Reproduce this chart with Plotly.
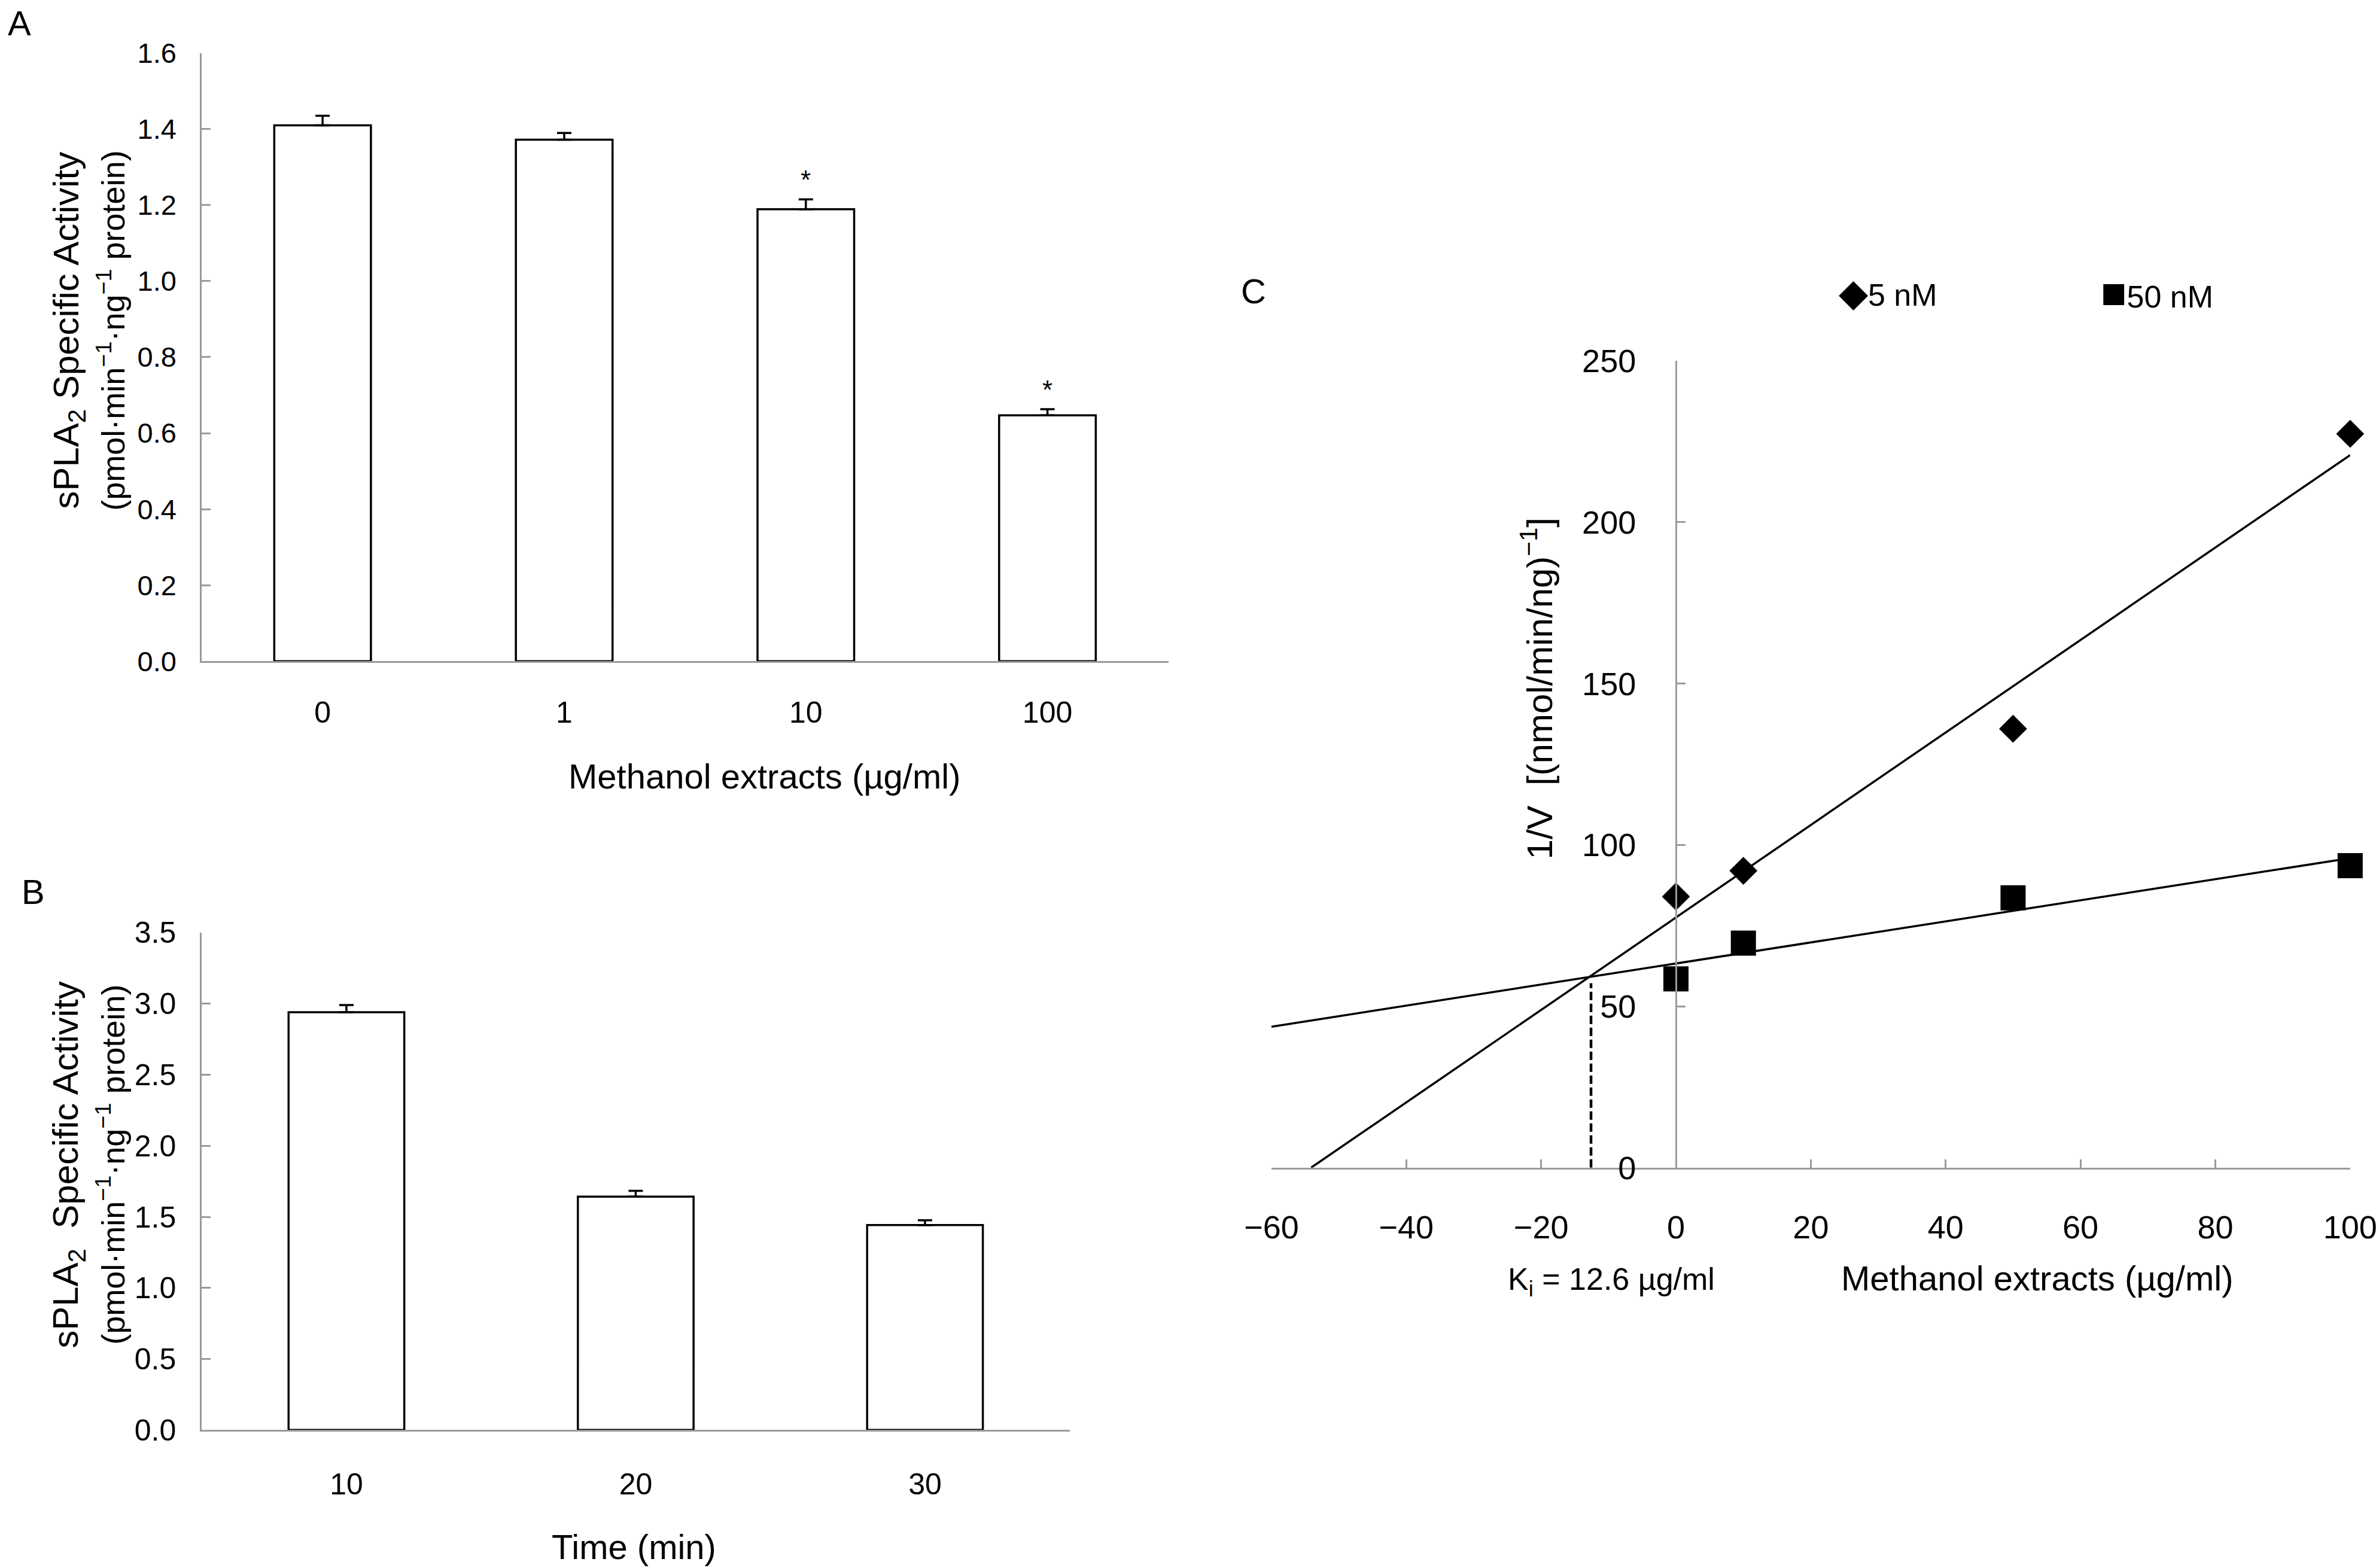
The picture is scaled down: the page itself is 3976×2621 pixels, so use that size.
import numpy as np
import plotly.graph_objects as go

# ---------------- data ----------------
# Panel A: sPLA2 activity vs methanol extract concentration
conc_labels_A = ["0", "1", "10", "100"]
activity_A = [1.41, 1.372, 1.189, 0.647]
err_A = [0.025, 0.018, 0.026, 0.016]
sig_A = ["", "", "*", "*"]

# Panel B: sPLA2 activity vs time
time_labels_B = ["10", "20", "30"]
activity_B = [2.94, 1.642, 1.442]
err_B = [0.05, 0.041, 0.034]

# Panel C: Dixon plot
conc_C = [0, 10, 50, 100]
inv_v_5nM = [84.0, 92.0, 136.0, 227.4]
inv_v_50nM = [58.5, 69.6, 83.6, 93.6]
ki_value = 12.6

FONT = "Liberation Sans, Arial, sans-serif"
AXIS_GREY = "#9a9a9a"

fig = go.Figure()

# ---------------- Panel A ----------------
fig.add_trace(go.Bar(
    x=conc_labels_A, y=activity_A,
    marker=dict(color="white", line=dict(color="black", width=3.5)),
    error_y=dict(type="data", array=err_A, arrayminus=[0] * len(err_A), symmetric=False,
                 color="black", thickness=3.5, width=12),
    xaxis="x", yaxis="y", showlegend=False,
))

# ---------------- Panel B ----------------
fig.add_trace(go.Bar(
    x=time_labels_B, y=activity_B,
    marker=dict(color="white", line=dict(color="black", width=3.5)),
    error_y=dict(type="data", array=err_B, arrayminus=[0] * len(err_B), symmetric=False,
                 color="black", thickness=3.5, width=12),
    xaxis="x2", yaxis="y2", showlegend=False,
))

# ---------------- Panel C ----------------
x_arr = np.array(conc_C, dtype=float)
m1, b1 = np.polyfit(x_arr, np.array(inv_v_5nM), 1)
m2, b2 = np.polyfit(x_arr, np.array(inv_v_50nM), 1)
x_lo, x_hi = -60.0, 100.0
x_start_5 = max(-b1 / m1, x_lo)

fig.add_trace(go.Scatter(
    x=[x_start_5, x_hi], y=[m1 * x_start_5 + b1, m1 * x_hi + b1],
    mode="lines", line=dict(color="black", width=3.5),
    xaxis="x3", yaxis="y3", showlegend=False, hoverinfo="skip",
))
fig.add_trace(go.Scatter(
    x=[x_lo, x_hi], y=[m2 * x_lo + b2, m2 * x_hi + b2],
    mode="lines", line=dict(color="black", width=3.5),
    xaxis="x3", yaxis="y3", showlegend=False, hoverinfo="skip",
))
# dashed Ki guide
fig.add_trace(go.Scatter(
    x=[-ki_value, -ki_value], y=[0, m2 * (-ki_value) + b2 - 2],
    mode="lines", line=dict(color="black", width=4.5, dash="14px,6px"),
    xaxis="x3", yaxis="y3", showlegend=False, hoverinfo="skip",
))
fig.add_trace(go.Scatter(
    x=conc_C, y=inv_v_5nM, mode="markers", name="5 nM", cliponaxis=False,
    marker=dict(symbol="diamond", size=36, color="black"),
    xaxis="x3", yaxis="y3", showlegend=False,
))
fig.add_trace(go.Scatter(
    x=conc_C, y=inv_v_50nM, mode="markers", name="50 nM", cliponaxis=False,
    marker=dict(symbol="square", size=42, color="black"),
    xaxis="x3", yaxis="y3", showlegend=False,
))

# ---------------- layout ----------------
W, H = 3976, 2621
def px(xd):
    return xd / 1568.0
def py(yd):
    return 1 - yd / 1034.0

domA_x = [px(133), px(770)]
domA_y = [py(436), py(35)]
domB_x = [px(133), px(705)]
domB_y = [py(943), py(615)]
domC_x = [px(838), px(1549)]
domC_y = [py(770), py(238)]
yC_pos = domC_x[0] + (0 - x_lo) / (x_hi - x_lo) * (domC_x[1] - domC_x[0])

common_line = dict(showline=True, linecolor=AXIS_GREY, linewidth=3, showgrid=False,
                   zeroline=False, automargin=False)

fig.update_layout(
    width=W, height=H,
    margin=dict(l=0, r=0, t=0, b=0, pad=0, autoexpand=False),
    paper_bgcolor="white", plot_bgcolor="white",
    bargap=0.6,
    font=dict(family=FONT, color="black"),
    xaxis=dict(domain=domA_x, anchor="y", type="category", range=[-0.5, 3.5], ticks="",
               tickfont=dict(size=50), ticklabelstandoff=40, **common_line),
    yaxis=dict(domain=domA_y, anchor="x", range=[0, 1.6], dtick=0.2, tickformat=".1f",
               ticks="inside", ticklen=15, tickwidth=3, tickcolor=AXIS_GREY,
               tickfont=dict(size=47), ticklabelstandoff=30, **common_line),
    xaxis2=dict(domain=domB_x, anchor="y2", type="category", range=[-0.5, 2.5], ticks="",
                tickfont=dict(size=50), ticklabelstandoff=45, **common_line),
    yaxis2=dict(domain=domB_y, anchor="x2", range=[0, 3.5], dtick=0.5, tickformat=".1f",
                ticks="inside", ticklen=15, tickwidth=3, tickcolor=AXIS_GREY,
                tickfont=dict(size=50), ticklabelstandoff=30, **common_line),
    xaxis3=dict(domain=domC_x, anchor="y3", range=[x_lo, x_hi], dtick=20,
                ticks="inside", ticklen=14, tickwidth=3, tickcolor=AXIS_GREY,
                tickfont=dict(size=54), ticklabelstandoff=50, **common_line),
    yaxis3=dict(domain=domC_y, anchor="free", position=yC_pos, range=[0, 250], dtick=50,
                ticks="inside", ticklen=14, tickwidth=3, tickcolor=AXIS_GREY,
                tickfont=dict(size=54), ticklabelstandoff=55, **common_line),
)

ann = []
def txt(x, y, text, size, xanchor="center", yanchor="middle", angle=0, **kw):
    ann.append(dict(x=x, y=y, xref="paper", yref="paper", text=text, showarrow=False,
                    xanchor=xanchor, yanchor=yanchor, textangle=angle,
                    font=dict(size=size, family=FONT, color="black"), **kw))

# panel letters
txt(px(13), py(15), "A", 58)
txt(px(22), py(588), "B", 58)
txt(px(826), py(192), "C", 58)

# Panel A titles
txt(px(504), py(512), "Methanol extracts (µg/ml)", 58)
txt(px(45), py(218), "sPLA<sub>2</sub> Specific Activity", 60, angle=-90)
txt(px(73), py(218), "(pmol·min<sup>−1</sup>·ng<sup>−1</sup> protein)", 54, angle=-90)

# Panel B titles
txt(px(418), py(1020), "Time (min)", 58)
txt(px(45), py(768), "sPLA<sub>2</sub>  Specific Activity", 60, angle=-90)
txt(px(73), py(768), "(pmol·min<sup>−1</sup>·ng<sup>−1</sup> protein)", 54, angle=-90)

# Panel C texts (legend)
txt(px(1211), py(193), "<span style='font-size:64px'>◆</span>5 nM", 52, xanchor="left")
txt(px(1384), py(193), "<span style='font-size:72px'>■</span>50 nM", 52, xanchor="left")
txt(px(1013), py(454), "1/V  [(nmol/min/ng)<sup>−1</sup>]", 60, angle=-90)
txt(px(1062), py(845), "K<sub>i</sub> = 12.6 µg/ml", 52)
txt(px(1343), py(843), "Methanol extracts (µg/ml)", 58)

# significance stars on panel A (x given as category index)
for i, (v, e, s) in enumerate(zip(activity_A, err_A, sig_A)):
    if s:
        ann.append(dict(x=i, y=v + e, xref="x", yref="y", text=s, showarrow=False,
                        yanchor="bottom", yshift=6, font=dict(size=44, family=FONT, color="black")))

fig.update_layout(annotations=ann)

fig.write_html(
    "out.html",
    config={"displayModeBar": False},
    post_script="document.body.style.margin='0';document.body.style.overflow='hidden';",
)
